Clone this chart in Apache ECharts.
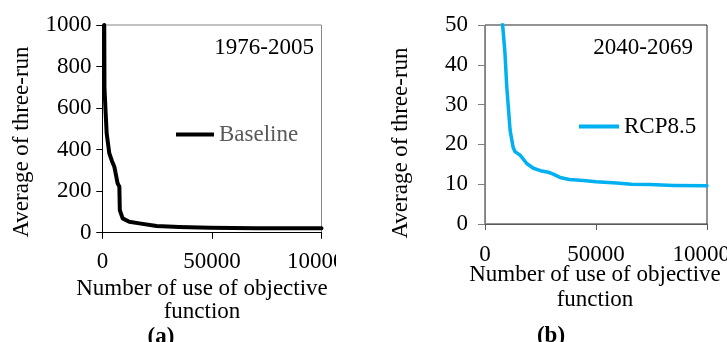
<!DOCTYPE html>
<html>
<head>
<meta charset="utf-8">
<script src="https://cdn.jsdelivr.net/npm/echarts@6/dist/echarts.min.js"></script>
<style>
  html, body { margin: 0; padding: 0; background: #fff; }
  body { width: 727px; height: 342px; position: relative; overflow: hidden; }
  #a { position: absolute; left: 0; top: 0; width: 336px; height: 342px; }
  #b { position: absolute; left: 340px; top: 0; width: 387px; height: 342px; }
</style>
</head>
<body>
<div id="a"></div>
<div id="b"></div>
<script>
// ---- data ----
const xTicks = [0, 50000, 100000];
const yTicksA = [0, 200, 400, 600, 800, 1000];
const yTicksB = [0, 10, 20, 30, 40, 50];

const baselineName = 'Baseline';
const baselineX = [800, 900, 1300, 1900, 3100, 4300, 5400, 6900, 7700, 7900, 9200, 12200, 16800, 24700, 35000, 49000, 70000, 100000];
const baselineY = [1000, 700, 606, 478, 382, 345, 317, 237, 221, 108, 68, 52, 44, 31, 27, 23, 21, 20];

const rcpName = 'RCP8.5';
const rcpX = [7800, 9000, 9800, 10500, 11300, 12700, 13500, 15800, 18800, 21800, 25000, 28500, 30500, 33800, 38000, 44300, 50000, 59300, 66000, 74300, 85000, 100000];
const rcpY = [51, 42.9, 34.5, 29.5, 23.6, 19.2, 18.2, 17.3, 15.2, 14.0, 13.4, 13.0, 12.6, 11.7, 11.2, 10.9, 10.6, 10.3, 10.0, 9.9, 9.7, 9.6];

const periodA = '1976-2005';
const periodB = '2040-2069';
const yTitle = 'Average of three-run';
const xTitle = 'Number of use of objective\nfunction';

// ---- helpers ----
const FONT = "'Liberation Serif', 'Times New Roman', serif";
const FS = 23;

function pairs(xs, ys) { return xs.map((x, i) => [x, ys[i]]); }

function axisPair(ticks, lineColor, labelMargin, tickLen) {
  const base = {
    type: 'value',
    min: ticks[0],
    max: ticks[ticks.length - 1],
    interval: ticks[1] - ticks[0],
    splitLine: { show: false }
  };
  const main = Object.assign({}, base, {
    axisLine: { show: true, lineStyle: { color: lineColor, width: 1 } },
    axisTick: { show: true, inside: false, length: tickLen, lineStyle: { color: lineColor, width: 1 } },
    axisLabel: { show: true, margin: labelMargin, color: '#000', fontFamily: FONT, fontSize: FS,
      showMaxLabel: true, showMinLabel: true, hideOverlap: false,
      formatter: function (v) { return String(v); } }
  });
  const inner = Object.assign({}, base, {
    axisLine: { show: false },
    axisTick: { show: true, inside: true, length: tickLen, lineStyle: { color: lineColor, width: 1 } },
    axisLabel: { show: false }
  });
  return [main, inner];
}

function txt(text, x, y, opts) {
  return {
    type: 'text', x: x, y: y, rotation: opts.rotation || 0, silent: true,
    style: Object.assign({
      text: text, fontFamily: FONT, fontSize: FS, fill: '#000',
      textAlign: 'center', textVerticalAlign: 'middle'
    }, opts.style || {})
  };
}

// ---- chart (a) ----
const chartA = echarts.init(document.getElementById('a'), null, { renderer: 'canvas' });
chartA.setOption({
  animation: false,
  grid: { left: 102.5, top: 25, width: 219, height: 207.5, containLabel: false, outerBoundsMode: 'none',
    show: true, borderColor: '#868686', borderWidth: 1, backgroundColor: 'transparent' },
  xAxis: axisPair(xTicks, '#000', 18, 6),
  yAxis: axisPair(yTicksA, '#000', 11, 6),
  legend: {
    left: 176, top: 123, padding: 0, icon: 'rect', itemWidth: 38, itemHeight: 4,
    textStyle: { fontFamily: FONT, fontSize: FS, color: '#595959' },
    data: [baselineName]
  },
  series: [{
    name: baselineName, type: 'line', xAxisIndex: 0, yAxisIndex: 0,
    data: pairs(baselineX, baselineY), showSymbol: false, symbol: 'none',
    lineStyle: { color: '#000', width: 4, join: 'round', cap: 'round' },
    itemStyle: { color: '#000' }, clip: true
  }],
  graphic: [
    txt(yTitle, 22, 142, { rotation: Math.PI / 2 }),
    txt(xTitle, 202, 300, { style: { lineHeight: 23 } }),
    txt('(a)', 161, 337, { style: { fontWeight: 'bold' } }),
    txt(periodA, 314, 48, { style: { textAlign: 'right' } })
  ]
});

// ---- chart (b) ----
const chartB = echarts.init(document.getElementById('b'), null, { renderer: 'canvas' });
chartB.setOption({
  animation: false,
  grid: { left: 145, top: 25, width: 222, height: 199, containLabel: false, outerBoundsMode: 'none',
    show: true, borderColor: '#262626', borderWidth: 1, backgroundColor: 'transparent' },
  xAxis: axisPair(xTicks, '#595959', 19, 6),
  yAxis: axisPair(yTicksB, '#808080', 17, 7),
  legend: {
    left: 239, top: 115, padding: 0, icon: 'rect', itemWidth: 40, itemHeight: 4,
    textStyle: { fontFamily: FONT, fontSize: FS, color: '#000' },
    data: [rcpName]
  },
  series: [{
    name: rcpName, type: 'line', xAxisIndex: 0, yAxisIndex: 0,
    data: pairs(rcpX, rcpY), showSymbol: false, symbol: 'none',
    lineStyle: { color: '#00B0F0', width: 3.5, join: 'round', cap: 'round' },
    itemStyle: { color: '#00B0F0' }, clip: true
  }],
  graphic: [
    txt(yTitle, 61, 143, { rotation: Math.PI / 2 }),
    txt(xTitle, 255, 287, { style: { lineHeight: 25 } }),
    txt('(b)', 211, 336, { style: { fontWeight: 'bold' } }),
    txt(periodB, 353, 48, { style: { textAlign: 'right' } })
  ]
});
</script>
</body>
</html>
